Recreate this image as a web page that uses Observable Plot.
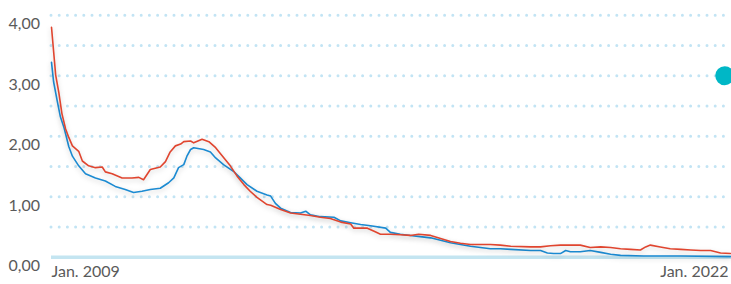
<!DOCTYPE html>
<html>
<head>
<meta charset="utf-8">
<script src="https://cdn.jsdelivr.net/npm/d3@7"></script>
<script src="https://cdn.jsdelivr.net/npm/@observablehq/plot@0.6"></script>
<style>
  html, body { margin: 0; padding: 0; background: #fff; }
  #chart { width: 731px; height: 284px; }
  svg { font-family: Lato, "Open Sans", sans-serif; }
</style>
</head>
<body>
<div id="chart"></div>
<script>
// Decimal-year time stamps and values (percent)
const redYears = [2009.00,2009.08,2009.14,2009.20,2009.27,2009.33,2009.40,2009.52,2009.59,2009.71,2009.84,2009.97,2010.03,2010.16,2010.35,2010.54,2010.67,2010.76,2010.89,2011.08,2011.18,2011.27,2011.37,2011.47,2011.53,2011.66,2011.72,2011.88,2012.01,2012.14,2012.26,2012.42,2012.55,2012.68,2012.80,2012.93,2013.12,2013.19,2013.38,2013.57,2013.76,2013.95,2014.14,2014.33,2014.53,2014.72,2014.78,2015.04,2015.19,2015.29,2015.48,2015.67,2015.86,2016.02,2016.25,2016.44,2016.63,2016.82,2017.01,2017.20,2017.39,2017.58,2017.78,2018.16,2018.35,2018.54,2018.73,2018.92,2019.11,2019.30,2019.50,2019.69,2019.88,2020.07,2020.26,2020.36,2020.45,2020.64,2020.83,2021.03,2021.22,2021.41,2021.60,2021.79,2021.98];
const redValues = [3.80,3.01,2.72,2.37,2.12,1.98,1.84,1.75,1.59,1.51,1.48,1.49,1.41,1.38,1.31,1.31,1.32,1.28,1.45,1.49,1.58,1.74,1.84,1.87,1.91,1.92,1.89,1.95,1.91,1.81,1.68,1.51,1.34,1.20,1.09,0.99,0.87,0.86,0.79,0.73,0.71,0.69,0.66,0.64,0.58,0.55,0.48,0.48,0.42,0.38,0.38,0.37,0.36,0.38,0.36,0.31,0.26,0.23,0.21,0.21,0.21,0.20,0.18,0.17,0.17,0.19,0.20,0.20,0.20,0.16,0.17,0.16,0.14,0.13,0.12,0.17,0.20,0.17,0.14,0.13,0.12,0.11,0.11,0.07,0.06];

const blueYears = [2009.00,2009.04,2009.11,2009.17,2009.24,2009.33,2009.40,2009.52,2009.65,2009.84,2010.03,2010.22,2010.41,2010.57,2010.73,2010.89,2011.08,2011.24,2011.34,2011.43,2011.53,2011.59,2011.66,2011.72,2011.91,2012.04,2012.14,2012.29,2012.48,2012.61,2012.74,2012.93,2013.12,2013.19,2013.28,2013.38,2013.57,2013.76,2013.86,2013.95,2014.14,2014.40,2014.53,2014.72,2014.91,2015.10,2015.39,2015.48,2015.67,2015.86,2016.05,2016.25,2016.44,2016.63,2016.82,2017.01,2017.20,2017.39,2017.58,2017.78,2018.16,2018.35,2018.48,2018.60,2018.73,2018.83,2018.92,2019.11,2019.30,2019.50,2019.69,2019.88,2020.32,2021.03,2021.98];
const blueValues = [3.22,2.90,2.58,2.32,2.14,1.83,1.67,1.51,1.38,1.31,1.26,1.17,1.12,1.07,1.09,1.12,1.14,1.23,1.31,1.48,1.53,1.67,1.78,1.81,1.78,1.74,1.64,1.53,1.42,1.31,1.20,1.09,1.03,1.01,0.89,0.81,0.74,0.73,0.76,0.70,0.67,0.66,0.60,0.57,0.54,0.52,0.48,0.41,0.38,0.36,0.34,0.32,0.28,0.24,0.21,0.18,0.16,0.14,0.14,0.13,0.11,0.11,0.07,0.06,0.06,0.11,0.09,0.09,0.11,0.08,0.05,0.03,0.02,0.02,0.01];

const markerYear = [2021.87];
const markerValue = [3.0];

const gridValues = [0.5, 1, 1.5, 2, 2.5, 3, 3.5, 4];
const yTickValues = [0, 1, 2, 3, 4];
const xTickYears = [2009, 2022];
const xTickLabels = ["Jan. 2009", "Jan. 2022"];

const toDate = t => new Date(Date.UTC(Math.floor(t), 0, 1) + (t - Math.floor(t)) * 365.25 * 864e5);
const red = redYears.map((t, i) => ({date: toDate(t), value: redValues[i]}));
const blue = blueYears.map((t, i) => ({date: toDate(t), value: blueValues[i]}));
const marker = markerYear.map((t, i) => ({date: toDate(t), value: markerValue[i]}));
const xTicks = xTickYears.map((y, i) => ({date: toDate(y), label: xTickLabels[i]}));

const fmt = v => v.toFixed(2).replace(".", ",");

const chart = Plot.plot({
  width: 731,
  height: 284,
  marginLeft: 51,
  marginRight: 0,
  marginTop: 14.7,
  marginBottom: 27.3,
  style: {fontFamily: "Lato, 'Open Sans', sans-serif", fontSize: "16px", color: "#5a5a5a", background: "#fff"},
  x: {type: "utc", domain: [toDate(2009), toDate(2022)], axis: null},
  y: {domain: [0, 4], axis: null},
  marks: [
    Plot.ruleY(gridValues, {stroke: "#c2e4f4", strokeWidth: 3, strokeDasharray: "0,8.2", strokeLinecap: "round"}),
    Plot.ruleY([0], {stroke: "#c4e5f1", strokeWidth: 3.5}),
    Plot.line(blue, {x: "date", y: "value", stroke: "#1c8bd2", strokeWidth: 1.6}),
    Plot.line(red, {x: "date", y: "value", stroke: "#e0452f", strokeWidth: 1.6}),
    Plot.dot(marker, {x: "date", y: "value", r: 9.5, fill: "#00b7c6", stroke: "none"}),
    Plot.axisY(yTickValues, {tickSize: 0, tickPadding: 3, tickFormat: fmt, label: null, textAnchor: "start", dx: -40, dy: 9, fill: "#5a5a5a", fontSize: 16}),
    Plot.text(xTicks.slice(0, 1), {x: "date", y: () => 0, text: "label", textAnchor: "start", dy: 15, dx: 0, fill: "#5a5a5a", fontSize: 16}),
    Plot.text(xTicks.slice(1), {x: "date", y: () => 0, text: "label", textAnchor: "end", dy: 15, dx: -3, fill: "#5a5a5a", fontSize: 16})
  ]
});
d3.select(chart).selectAll('g[aria-label="line"]').style("filter", "drop-shadow(0px 2px 2.5px rgba(0,0,0,0.18))");
document.getElementById("chart").appendChild(chart);
</script>
</body>
</html>
